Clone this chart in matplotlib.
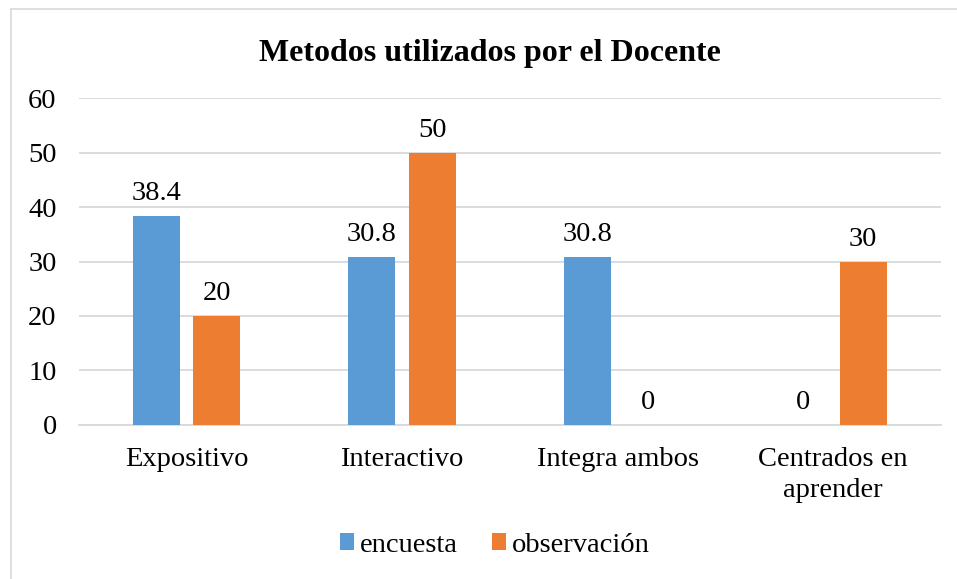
import matplotlib
matplotlib.use('Agg')
import matplotlib.pyplot as plt
import numpy as np
from matplotlib.lines import Line2D

# Data
categorias = ['Expositivo', 'Interactivo', 'Integra ambos', 'Centrados en\naprender']
encuesta = [38.4, 30.8, 30.8, 0]
observacion = [20, 50, 0, 30]
etiquetas_enc = ['38.4', '30.8', '30.8', '0']
etiquetas_obs = ['20', '50', '0', '30']

azul = '#5B9BD5'
naranja = '#ED7D31'

plt.rcParams['font.family'] = ['Liberation Serif', 'DejaVu Serif']

fig = plt.figure(figsize=(9.57, 5.79), dpi=100)
ax = fig.add_axes([0.0825, 0.266, 0.9005, 0.5647])

# outer chart border (only left and top visible in the crop)
borde_x = 10.5 / 957
borde_y = 1 - 8.5 / 579
fig.lines.append(Line2D([borde_x, borde_x], [0, borde_y], transform=fig.transFigure,
                        color='#D9D9D9', linewidth=1.2))
fig.lines.append(Line2D([borde_x, 1], [borde_y, borde_y], transform=fig.transFigure,
                        color='#D9D9D9', linewidth=1.2))

x = np.arange(len(categorias))
ancho = 0.218
desp = 0.14
b1 = ax.bar(x - desp, encuesta, ancho, color=azul, label='encuesta', zorder=3)
b2 = ax.bar(x + desp, observacion, ancho, color=naranja, label='observación', zorder=3)

fs = 20.5
for rect, txt in zip(b1, etiquetas_enc):
    ax.annotate(txt, (rect.get_x() + rect.get_width()/2, rect.get_height()),
                xytext=(0, 7), textcoords='offset points', ha='center', va='bottom', fontsize=fs)
for rect, txt in zip(b2, etiquetas_obs):
    ax.annotate(txt, (rect.get_x() + rect.get_width()/2, rect.get_height()),
                xytext=(0, 7), textcoords='offset points', ha='center', va='bottom', fontsize=fs)

ax.set_xlim(-0.5, 3.5)
ax.set_ylim(0, 60)
ax.set_yticks(range(0, 61, 10))
ax.set_xticks(x)
ax.set_xticklabels(categorias, fontsize=fs, linespacing=1.3)
ax.tick_params(axis='y', labelsize=fs, length=0, pad=16)
ax.tick_params(axis='x', length=0, pad=16)
ax.grid(axis='y', color='#D9D9D9', linewidth=1.3, zorder=0)
for s in ['top', 'right', 'left']:
    ax.spines[s].set_visible(False)
ax.spines['bottom'].set_color('#D9D9D9')
ax.spines['bottom'].set_linewidth(1.3)

fig.text(0.512, 1 - 53/579, 'Metodos utilizados por el Docente', ha='center', va='center',
         fontsize=23, fontweight='bold')

fig.legend(handles=[b1, b2], loc='center', bbox_to_anchor=(0.517, 1 - 545/579), ncol=2,
           frameon=False, fontsize=fs, handlelength=0.5, handleheight=0.5,
           handletextpad=0.2, columnspacing=1.2)

fig.savefig('out.png', dpi=100)
